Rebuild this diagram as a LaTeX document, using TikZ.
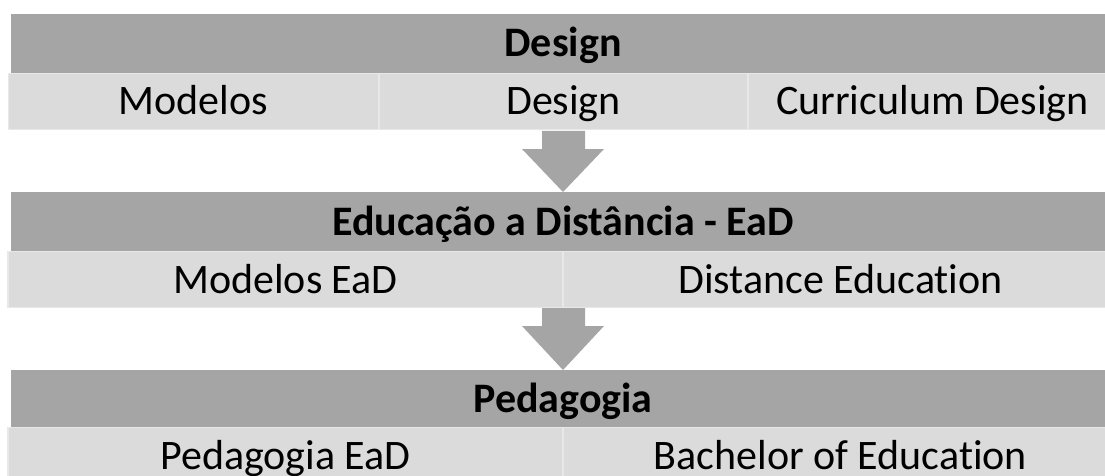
\documentclass[tikz,border=0pt]{standalone}
\usepackage{fontspec}
\setmainfont{Carlito}[Ligatures={NoCommon}]
\definecolor{hdr}{HTML}{A5A5A5}
\definecolor{subfill}{HTML}{DBDBDB}
\definecolor{edgecol}{HTML}{E8E8E8}
\begin{document}
\begin{tikzpicture}[x=1pt,y=-1pt,
  cell/.style={rectangle, inner sep=0pt, fill=subfill, draw=edgecol, line width=1.2pt,
    text height=27pt, text depth=0pt, font=\fontsize{42}{50}\selectfont, minimum height=56pt},
  head/.style={rectangle, inner sep=0pt, fill=hdr, draw=none,
    text height=27pt, text depth=0pt, font=\fontsize{42}{50}\selectfont\bfseries, minimum width=1104pt},
  blockarrow/.style={fill=hdr, draw=none}]
\useasboundingbox (0,0) rectangle (1105,476);
\clip (0,0) rectangle (1105,476);
% section 1
\node[head, minimum height=59pt] (h1) at (563,43.5) {Design};
\node[cell, minimum width=370pt] (c11) at (193.5,101.5) {Modelos};
\node[cell, minimum width=369pt] (c12) at (563.5,101.5) {Design};
\node[cell, minimum width=369pt] (c13) at (932.5,101.5) {Curriculum Design};
% arrow 1
\fill[blockarrow] (542,131) -- (585,131) -- (585,149) -- (604,149) -- (563,192) -- (522,149) -- (542,149) -- cycle;
% section 2
\node[head, minimum height=60pt] (h2) at (563,221.5) {Educação a Distância - EaD};
\node[cell, minimum width=555pt] (c21) at (285.5,279.5) {Modelos EaD};
\node[cell, minimum width=555pt] (c22) at (840.5,279.5) {Distance Education};
% arrow 2
\fill[blockarrow] (542,308) -- (585,308) -- (585,326) -- (604,326) -- (563,370) -- (522,326) -- (542,326) -- cycle;
% section 3
\node[head, minimum height=58pt] (h3) at (563,398.5) {Pedagogia};
\node[cell, minimum width=555pt] (c31) at (285.5,455.5) {Pedagogia EaD};
\node[cell, minimum width=555pt] (c32) at (840.5,455.5) {Bachelor of Education};
\end{tikzpicture}
\end{document}
